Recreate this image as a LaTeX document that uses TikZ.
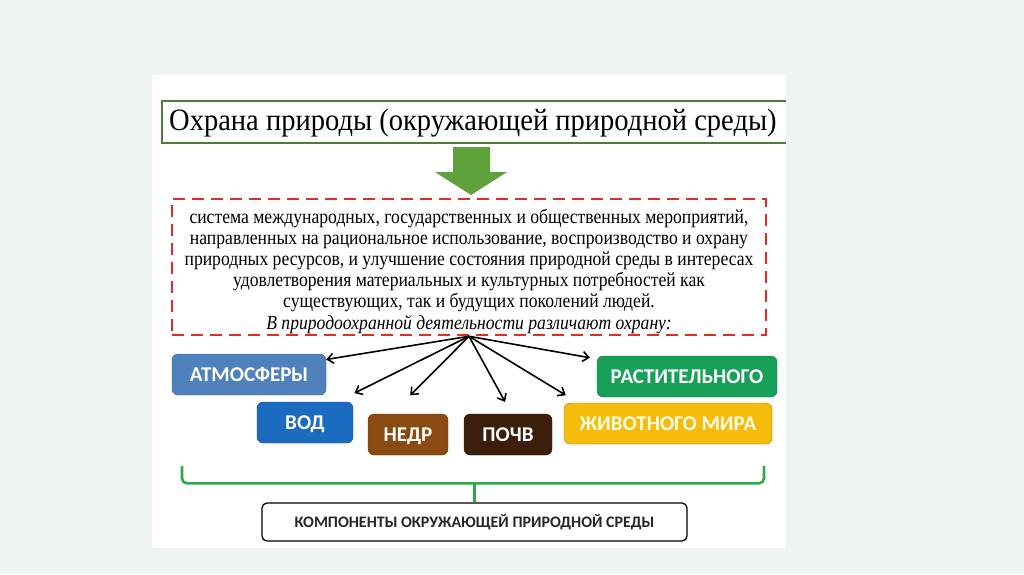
\documentclass[tikz,border=0pt]{standalone}
\usepackage{fontspec}
\setmainfont{Liberation Serif}
\newfontfamily\narrowserif[FakeStretch=0.88]{Liberation Serif}
\newfontfamily\titleserif[FakeStretch=0.92]{Liberation Serif}
\newfontfamily\boxfont{Carlito}
\usetikzlibrary{arrows.meta}

\definecolor{bgcol}{HTML}{EEF4F3}
\definecolor{titlecol}{HTML}{4E7A3F}
\definecolor{arrowcol}{HTML}{5FA13A}
\definecolor{redcol}{HTML}{E02B2B}
\definecolor{atmcol}{HTML}{4F81BD}
\definecolor{vodcol}{HTML}{1B6BC1}
\definecolor{nedrcol}{HTML}{8B4A12}
\definecolor{pochvcol}{HTML}{3B1E0B}
\definecolor{rastcol}{HTML}{18A058}
\definecolor{zhivcol}{HTML}{F6BC0C}
\definecolor{bracecol}{HTML}{2BAA4A}

\begin{document}
\begin{tikzpicture}[
	x=1pt, y=-1pt,
	>={Straight Barb[length=6pt,width=10pt]},
	comp/.style={rounded corners=6pt, minimum height=41pt, inner sep=0pt,
		text height=13.5pt, text depth=0pt,
		text=white, font=\boxfont\bfseries\fontsize{21}{23}\selectfont},
	link/.style={->, line width=1.6pt},
	brace/.style={draw=bracecol, line width=2.6pt, rounded corners=5pt}
	]
	% фон и белая панель
	\fill[bgcol] (0,0) rectangle (1024,574);
	\fill[white] (152,75) rectangle (786,548);
	\useasboundingbox (0,0) rectangle (1024,574);

	% заголовок
	\node (title) [anchor=north west, minimum height=42pt, inner sep=0pt,
		font=\titleserif\fontsize{31}{33}\selectfont] at (169,102)
		{Охрана природы (окружающей природной среды)};
	\draw[titlecol, line width=2pt] (786,101) -| (162,143) -- (786,143);

	% зелёная стрелка
	\fill[arrowcol] (453,147) -- (490,147) -- (490,172) -- (507,172)
		-- (471,195) -- (435,172) -- (453,172) -- cycle;

	% определение
	\node (defn) [draw=redcol, line width=2.6pt, dash pattern=on 12pt off 7pt,
		minimum width=594pt, minimum height=136pt] at (469,267) {};
	\node (defntext) [align=center, inner sep=0pt,
		font=\narrowserif\fontsize{20}{21.2}\selectfont] at ([yshift=-4pt]defn.center)
		{система международных, государственных и общественных мероприятий,\\
		 направленных на рациональное использование, воспроизводство и охрану\\
		 природных ресурсов, и улучшение состояния природной среды в интересах\\
		 удовлетворения материальных и культурных потребностей как\\
		 существующих, так и будущих поколений людей.\\
		 \textit{В природоохранной деятельности различают охрану:}};

	% компоненты
	\node (atm) [comp, fill=atmcol, draw=atmcol!75!black, minimum width=154pt] at (249,374.5) {АТМОСФЕРЫ};
	\node (vod) [comp, fill=vodcol, draw=vodcol!75!black, minimum width=96pt] at (305,422.5) {ВОД};
	\node (nedr) [comp, fill=nedrcol, draw=nedrcol!75!black, minimum width=80pt] at (408,434.5) {НЕДР};
	\node (pochv) [comp, fill=pochvcol, draw=pochvcol!75!black, minimum width=88pt] at (508,434.5) {ПОЧВ};
	\node (rast) [comp, fill=rastcol, draw=rastcol!75!black, minimum width=180pt] at (687,376.5) {РАСТИТЕЛЬНОГО};
	\node (zhiv) [comp, fill=zhivcol, draw=zhivcol!70!black, minimum width=208pt,
		text=white!90!yellow] at (668,423.5) {ЖИВОТНОГО МИРА};

	\draw[link] (defn.south) -- (atm.11);
	\draw[link, shorten >=19.6pt] (defn.south) -- (vod.33);
	\draw[link, shorten >=26pt] (defn.south) -- (nedr.128);
	\draw[link, shorten >=13.6pt] (defn.south) -- (pochv.80);
	\draw[link, shorten >=14.7pt] (defn.south) -- (zhiv.167.7);
	\draw[link, shorten >=7pt] (defn.south) -- (rast.169.2);

	% итог
	\node (total) [draw, line width=1.3pt, rounded corners=5pt, minimum width=425pt,
		minimum height=38pt, text=black!85, text height=10.5pt, text depth=0pt,
		font=\boxfont\bfseries\fontsize{16}{18}\selectfont] at (474.5,522)
		{КОМПОНЕНТЫ ОКРУЖАЮЩЕЙ ПРИРОДНОЙ СРЕДЫ};
	\draw[brace] (total.north) -- ++(0,-19) coordinate (mid);
	\draw[brace] (182,466) |- (mid) -| (764,466);
\end{tikzpicture}
\end{document}
